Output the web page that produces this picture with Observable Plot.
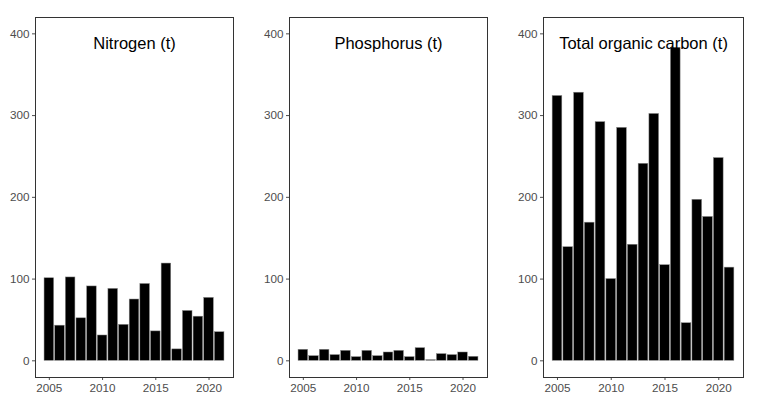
<!DOCTYPE html>
<html>
<head>
<meta charset="utf-8">
<script src="https://cdn.jsdelivr.net/npm/d3@7"></script>
<script src="https://cdn.jsdelivr.net/npm/@observablehq/plot@0.6"></script>
<style>
  html, body { margin: 0; padding: 0; background: #fff; }
  #wrap { position: relative; width: 761px; height: 415px; }
  #wrap > div { position: absolute; top: 0; }
</style>
</head>
<body>
<div id="wrap"><div id="p1" style="left:0px"></div><div id="p2" style="left:250px"></div><div id="p3" style="left:500px"></div></div>
<script>
const years = [2005,2006,2007,2008,2009,2010,2011,2012,2013,2014,2015,2016,2017,2018,2019,2020,2021];
const nitrogen = [101,43,102,52,91,31,88,44,75,94,36,119,14,61,54,77,35];
const phosphorus = [13.5,5.7,13.5,7,12.2,4.5,12.2,5.7,10.2,12.2,4.5,15.5,0.8,8.2,7,10.2,4.9];
const toc = [324,139,328,169,292,100,285,142,241,302,117,383,46,197,176,248,114];
const titles = ["Nitrogen (t)", "Phosphorus (t)", "Total organic carbon (t)"];
const yTicks = [0,100,200,300,400];
const xTicks = [2005,2010,2015,2020];

const panels = [
  {id: "p1", values: nitrogen, title: titles[0], width: 250, ml: 35, mr: 17},
  {id: "p2", values: phosphorus, title: titles[1], width: 250, ml: 39, mr: 13},
  {id: "p3", values: toc, title: titles[2], width: 261, ml: 43, mr: 18}
];

for (const p of panels) {
  const data = years.map((y, i) => ({year: y, value: p.values[i]}));
  const chart = Plot.plot({
    width: p.width,
    height: 415,
    marginLeft: p.ml,
    marginRight: p.mr,
    marginTop: 17,
    marginBottom: 38,
    style: {fontFamily: "'Liberation Sans', Arial, sans-serif", fontSize: "11.7px", background: "white", color: "#4d4d4d"},
    x: {domain: [2003.7, 2022.3], ticks: xTicks, tickFormat: "d", label: null, tickSize: 3, tickPadding: 3},
    y: {domain: [-20.4, 420], ticks: yTicks, label: null, tickSize: 3, tickPadding: 3},
    marks: [
      Plot.rectY(data, {x1: d => d.year - 0.45, x2: d => d.year + 0.45, y1: 0, y2: "value", fill: "black", stroke: "#8a8a8a", strokeWidth: 0.5}),
      Plot.text([p.title], {text: d => d, frameAnchor: "top", dy: 26, fontSize: 16.5, fill: "black", lineAnchor: "middle"}),
      Plot.frame({stroke: "#333", strokeWidth: 1})
    ]
  });
  document.getElementById(p.id).appendChild(chart);
}
</script>
</body>
</html>
